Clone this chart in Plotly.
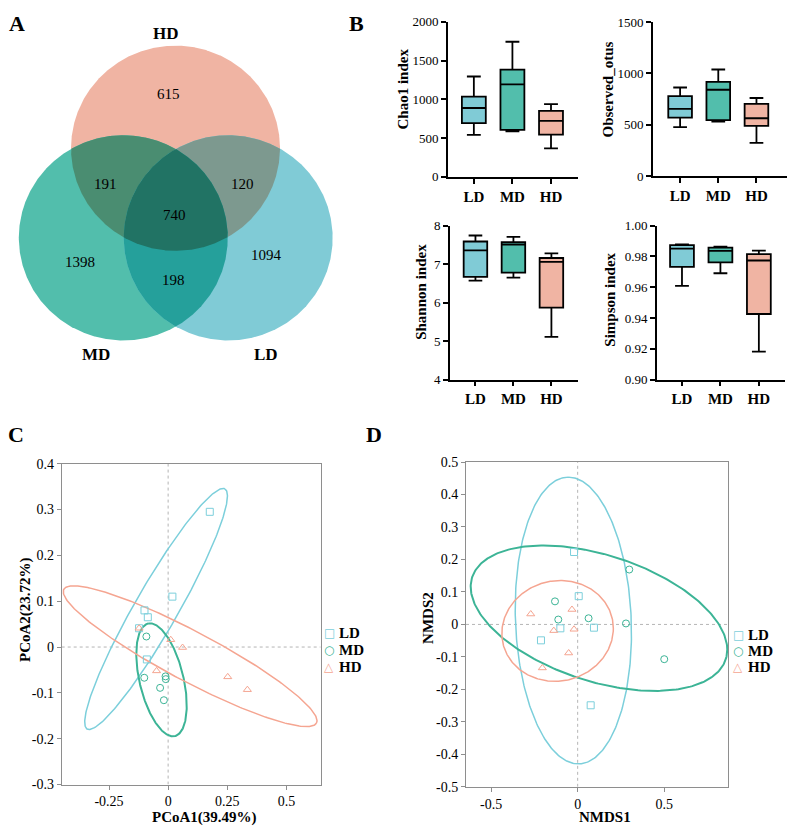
import numpy as np
import plotly.graph_objects as go

W, H = 794, 840
FONT = "Liberation Serif, Times New Roman, Times, DejaVu Serif, serif"

# ---------------- data ----------------
GROUPS = ["LD", "MD", "HD"]

# Venn (panel A)
VENN_REGIONS = ["HD", "MD", "LD", "HD&MD", "HD&LD", "MD&LD", "HD&MD&LD"]
VENN_COUNTS = [615, 1398, 1094, 191, 120, 198, 740]

# Alpha diversity box statistics (panel B), order LD, MD, HD
CHAO1_MIN = [541, 588, 368]
CHAO1_Q1 = [693, 605, 545]
CHAO1_MED = [888, 1192, 723]
CHAO1_Q3 = [1036, 1383, 850]
CHAO1_MAX = [1294, 1742, 939]

OTUS_MIN = [478, 532, 325]
OTUS_Q1 = [570, 545, 490]
OTUS_MED = [656, 841, 564]
OTUS_Q3 = [780, 917, 704]
OTUS_MAX = [863, 1038, 761]

SHANNON_MIN = [6.57, 6.65, 5.11]
SHANNON_Q1 = [6.67, 6.78, 5.87]
SHANNON_MED = [7.36, 7.51, 7.06]
SHANNON_Q3 = [7.59, 7.57, 7.16]
SHANNON_MAX = [7.745, 7.71, 7.28]

SIMPSON_MIN = [0.9609, 0.9691, 0.9181]
SIMPSON_Q1 = [0.9732, 0.9762, 0.9426]
SIMPSON_MED = [0.9851, 0.9836, 0.9774]
SIMPSON_Q3 = [0.9874, 0.9857, 0.9815]
SIMPSON_MAX = [0.9879, 0.9864, 0.9838]

# PCoA (panel C)
PCOA_LD_X = [0.176, 0.018, -0.100, -0.086, -0.123, -0.090]
PCOA_LD_Y = [0.295, 0.110, 0.080, 0.065, 0.041, -0.027]
PCOA_MD_X = [-0.092, -0.101, -0.011, -0.010, -0.034, -0.018]
PCOA_MD_Y = [0.023, -0.067, -0.064, -0.070, -0.089, -0.116]
PCOA_HD_X = [-0.123, 0.011, 0.061, -0.049, 0.252, 0.335]
PCOA_HD_Y = [0.041, 0.016, -0.001, -0.052, -0.065, -0.093]
# confidence ellipses: centre + two conjugate semi-diameters (LD, MD, HD)
PCOA_ELL_CX = [-0.051, -0.028, 0.093]
PCOA_ELL_CY = [0.083, -0.0715, -0.020]
PCOA_ELL_U = [(0.291, 0.262), (-0.0563, 0.1228), (0.534, -0.146)]
PCOA_ELL_V = [(0.0796, -0.0228), (0.0906, 0.0106), (-0.051, -0.0475)]

# NMDS (panel D)
NMDS_LD_X = [-0.021, 0.006, -0.100, 0.094, -0.212, 0.075]
NMDS_LD_Y = [0.223, 0.087, -0.012, -0.010, -0.049, -0.249]
NMDS_MD_X = [-0.131, -0.112, 0.063, 0.279, 0.298, 0.500]
NMDS_MD_Y = [0.071, 0.015, 0.019, 0.003, 0.169, -0.107]
NMDS_HD_X = [-0.271, -0.033, -0.138, -0.021, -0.052, -0.204]
NMDS_HD_Y = [0.032, 0.046, -0.019, -0.015, -0.088, -0.134]
NMDS_ELL_CX = [-0.025, 0.123, -0.116]
NMDS_ELL_CY = [0.012, 0.019, -0.020]
NMDS_ELL_U = [(-0.0288, 0.4415), (0.741, -0.0968), (0.322, 0.0079)]
NMDS_ELL_V = [(0.3346, 0.0), (0.0, -0.2018), (0.0, 0.155)]

# tick labels
PCOA_XTICKS = [-0.25, 0, 0.25, 0.5]
PCOA_XTEXT = ["-0.25", "0", "0.25", "0.5"]
PCOA_YTICKS = [-0.3, -0.2, -0.1, 0, 0.1, 0.2, 0.3, 0.4]
PCOA_YTEXT = ["-0.3", "-0.2", "-0.1", "0", "0.1", "0.2", "0.3", "0.4"]
NMDS_XTICKS = [-0.5, 0, 0.5]
NMDS_XTEXT = ["-0.5", "0", "0.5"]
NMDS_YTICKS = [-0.5, -0.4, -0.3, -0.2, -0.1, 0, 0.1, 0.2, 0.3, 0.4, 0.5]
NMDS_YTEXT = ["-0.5", "-0.4", "-0.3", "-0.2", "-0.1", "0", "0.1", "0.2", "0.3", "0.4", "0.5"]

# ---------------- styles ----------------
BOX_COL = {"LD": "#80cbd6", "MD": "#52beac", "HD": "#f0b4a3"}
PT_COL = {"LD": "#7ccfdb", "MD": "#3cb496", "HD": "#f5a591"}
PT_SYM = {"LD": "square-open", "MD": "circle-open", "HD": "triangle-up-open"}
LEG_GLYPH = {"LD": "\u25a1", "MD": "\u25cb", "HD": "\u25b3"}
ELL_W = {"LD": 1.5, "MD": 2.0, "HD": 1.5}
VENN_COL = ["#f0b4a3", "#52beac", "#80cbd6", "#4a8d71", "#7d998f", "#25a09b", "#217364"]
VENN_CX = [175.5, 123.3, 228.2]   # HD, MD, LD (pixel layout)
VENN_CY = [143.8, 235.0, 235.0]
VENN_R = 104.5
VENN_TXT_POS = [(168, 89), (80, 260), (266, 253), (106, 180), (243, 180), (173, 278), (174, 212)]


def dx(a, b):
    return [a / W, b / W]


def dy(top, bot):
    return [1 - bot / H, 1 - top / H]


def px(x):
    return x / W


def py(y):
    return 1 - y / H


def ann(text, x, y, font, angle=0, xanchor="center", color=None):
    f = dict(font)
    if color:
        f["color"] = color
    return dict(x=px(x), y=py(y), xref="paper", yref="paper", text=text, textangle=angle,
                showarrow=False, xanchor=xanchor, yanchor="middle", font=f)


def reg(s):
    return dict(family=FONT, size=s, color="black")


def bold(s):
    return dict(family=FONT, size=s, color="black", weight="bold")


fig = go.Figure()

# ---------------- panel A : Venn ----------------
def region(idx):
    t = np.linspace(0, 2 * np.pi, 1441)
    xs, ys = [], []
    for i in idx:
        x = VENN_CX[i] + VENN_R * np.cos(t)
        y = VENN_CY[i] + VENN_R * np.sin(t)
        m = np.ones_like(x, dtype=bool)
        for j in idx:
            if j != i:
                m &= (x - VENN_CX[j]) ** 2 + (y - VENN_CY[j]) ** 2 <= VENN_R ** 2 + 1e-6
        xs.append(x[m])
        ys.append(y[m])
    X = np.concatenate(xs)
    Y = np.concatenate(ys)
    o = np.argsort(np.arctan2(Y - Y.mean(), X - X.mean()))
    X, Y = X[o], Y[o]
    return np.append(X, X[0]), np.append(Y, Y[0])


region_sets = [[0], [1], [2], [0, 1], [0, 2], [1, 2], [0, 1, 2]]
for k, idx in enumerate(region_sets):
    X, Y = region(idx)
    fig.add_trace(go.Scatter(x=X, y=Y, mode="lines", fill="toself",
                             fillcolor=VENN_COL[k], line=dict(width=0, color=VENN_COL[k]),
                             hoverinfo="skip", showlegend=False, xaxis="x7", yaxis="y7"))

annotations = []
for k, n in enumerate(VENN_COUNTS):
    xx, yy = VENN_TXT_POS[k]
    annotations.append(ann(str(n), xx, yy, reg(15)))
for name, (xx, yy) in zip(["HD", "MD", "LD"], [(166, 27), (96, 354), (266, 354)]):
    annotations.append(ann(name, xx, yy, bold(17)))

# ---------------- panel B : boxes ----------------
box_sets = [
    ("x", "y", CHAO1_MIN, CHAO1_Q1, CHAO1_MED, CHAO1_Q3, CHAO1_MAX),
    ("x2", "y2", OTUS_MIN, OTUS_Q1, OTUS_MED, OTUS_Q3, OTUS_MAX),
    ("x3", "y3", SHANNON_MIN, SHANNON_Q1, SHANNON_MED, SHANNON_Q3, SHANNON_MAX),
    ("x4", "y4", SIMPSON_MIN, SIMPSON_Q1, SIMPSON_MED, SIMPSON_Q3, SIMPSON_MAX),
]
for xa, ya, mn, q1, md, q3, mx in box_sets:
    for i, g in enumerate(GROUPS):
        fig.add_trace(go.Box(x=[g], lowerfence=[mn[i]], q1=[q1[i]], median=[md[i]], q3=[q3[i]],
                             upperfence=[mx[i]], fillcolor=BOX_COL[g],
                             line=dict(color="black", width=1.8), width=0.62, whiskerwidth=0.58,
                             boxpoints=False, hoverinfo="skip", showlegend=False,
                             xaxis=xa, yaxis=ya))

# ---------------- panels C & D : ordination ----------------
def ellipse(cx, cy, u, v):
    t = np.linspace(0, 2 * np.pi, 300)
    return (cx + u[0] * np.cos(t) + v[0] * np.sin(t),
            cy + u[1] * np.cos(t) + v[1] * np.sin(t))


pc_pts = {"LD": (PCOA_LD_X, PCOA_LD_Y), "MD": (PCOA_MD_X, PCOA_MD_Y), "HD": (PCOA_HD_X, PCOA_HD_Y)}
nm_pts = {"LD": (NMDS_LD_X, NMDS_LD_Y), "MD": (NMDS_MD_X, NMDS_MD_Y), "HD": (NMDS_HD_X, NMDS_HD_Y)}

for xa, ya, pts, ecx, ecy, eu, ev in [
    ("x5", "y5", pc_pts, PCOA_ELL_CX, PCOA_ELL_CY, PCOA_ELL_U, PCOA_ELL_V),
    ("x6", "y6", nm_pts, NMDS_ELL_CX, NMDS_ELL_CY, NMDS_ELL_U, NMDS_ELL_V),
]:
    for i, g in enumerate(GROUPS):
        ex, ey = ellipse(ecx[i], ecy[i], eu[i], ev[i])
        fig.add_trace(go.Scatter(x=ex, y=ey, mode="lines", line=dict(color=PT_COL[g], width=ELL_W[g]),
                                 hoverinfo="skip", showlegend=False, xaxis=xa, yaxis=ya))
    for g in GROUPS:
        fig.add_trace(go.Scatter(x=pts[g][0], y=pts[g][1], mode="markers", name=g,
                                 marker=dict(symbol=PT_SYM[g], size=7, color=PT_COL[g],
                                             line=dict(width=1, color=PT_COL[g])),
                                 showlegend=False, xaxis=xa, yaxis=ya))

# legends (compact key drawn as text)
for (sx, tx, ys) in [(329, 337, [637.5, 655, 671.5]), (738, 746, [639.5, 655.5, 671.5])]:
    for g, yy in zip(GROUPS, ys):
        annotations.append(ann(LEG_GLYPH[g], sx, yy, dict(family="DejaVu Sans", size=12),
                               color=PT_COL[g]))
        annotations.append(ann(g, tx, yy, bold(15), xanchor="left"))

# ---------------- axes ----------------
tick_font = reg(13)
cat_font = bold(15)


def box_x(dom):
    return dict(domain=dom, type="category", categoryorder="array", categoryarray=GROUPS,
                range=[-0.67, 2.7], showline=True, linecolor="black", linewidth=1.8,
                ticks="outside", ticklen=5, tickwidth=1.8, tickcolor="black",
                tickfont=cat_font, showgrid=False, zeroline=False, fixedrange=True)


def box_y(dom, rng, dtick, anchor, fmt=None):
    d = dict(domain=dom, range=rng, dtick=dtick, tick0=rng[0], showline=True, linecolor="black",
             linewidth=1.8, ticks="outside", ticklen=5, tickwidth=1.8, tickcolor="black",
             tickfont=tick_font, showgrid=False, zeroline=False, anchor=anchor, fixedrange=True)
    if fmt:
        d["tickformat"] = fmt
    return d


def ord_ax(dom, rng, tv, tt, anchor):
    return dict(domain=dom, range=rng, tickvals=tv, ticktext=tt, showline=True, mirror=True,
                linecolor="#8e8e8e", linewidth=1, ticks="outside", ticklen=4, tickwidth=1,
                tickcolor="#8e8e8e", tickfont=reg(14),
                showgrid=False, zeroline=False, anchor=anchor)


layout = dict(
    width=W, height=H, margin=dict(l=0, r=0, t=0, b=0),
    paper_bgcolor="white", plot_bgcolor="rgba(0,0,0,0)",
    font=dict(family=FONT, color="black"), showlegend=False,
    xaxis=box_x(dx(448, 578)) | dict(anchor="y"),
    yaxis=box_y(dy(15, 173), [0, 2000], 500, "x"),
    xaxis2=box_x(dx(653, 787)) | dict(anchor="y2", range=[-0.71, 2.8]),
    yaxis2=box_y(dy(15.3, 172.3), [0, 1500], 500, "x2"),
    xaxis3=box_x(dx(450, 578)) | dict(anchor="y3"),
    yaxis3=box_y(dy(222.7, 379.3), [4, 8], 1, "x3"),
    xaxis4=box_x(dx(657, 785)) | dict(anchor="y4", range=[-0.65, 2.68]),
    yaxis4=box_y(dy(222.7, 379.3), [0.90, 1.00], 0.02, "x4", ".2f"),
    xaxis5=ord_ax(dx(61.7, 320.7), [-0.45, 0.645], PCOA_XTICKS, PCOA_XTEXT, "y5"),
    yaxis5=ord_ax(dy(465, 791.7), [-0.3, 0.4], PCOA_YTICKS, PCOA_YTEXT, "x5"),
    xaxis6=ord_ax(dx(466, 728.3), [-0.645, 0.87], NMDS_XTICKS, NMDS_XTEXT, "y6"),
    yaxis6=ord_ax(dy(463.3, 794), [-0.5, 0.5], NMDS_YTICKS, NMDS_YTEXT, "x6"),
    xaxis7=dict(domain=dx(0, 370), range=[0, 370], visible=False, fixedrange=True, anchor="y7"),
    yaxis7=dict(domain=dy(0, 370), range=[370, 0], visible=False, fixedrange=True, anchor="x7"),
)

# zero reference lines (dotted)
shapes = [
    dict(type="line", xref="x5", yref="y5", x0=0, x1=0, y0=-0.3, y1=0.4,
         line=dict(color="#b5b5b5", width=1, dash="dot"), layer="below"),
    dict(type="line", xref="x5", yref="y5", x0=-0.45, x1=0.645, y0=0, y1=0,
         line=dict(color="#b5b5b5", width=1, dash="dot"), layer="below"),
    dict(type="line", xref="x6", yref="y6", x0=0, x1=0, y0=-0.5, y1=0.5,
         line=dict(color="#b5b5b5", width=1, dash="dot"), layer="below"),
    dict(type="line", xref="x6", yref="y6", x0=-0.645, x1=0.87, y0=0, y1=0,
         line=dict(color="#b5b5b5", width=1, dash="dot"), layer="below"),
]

# panel letters
for t, (xx, yy) in zip(["A", "B", "C", "D"], [(17, 17), (356, 17), (16, 435), (374, 435)]):
    annotations.append(ann(t, xx, yy, bold(22)))
# B y titles
for t, (xx, yy) in zip(["Chao1 index", "Observed_otus", "Shannon index", "Simpson index"],
                       [(403, 84), (608, 84), (421, 290), (610, 298)]):
    annotations.append(ann(t, xx, yy, bold(15), angle=-90))
# C, D axis titles
for t, (xx, yy), a in [("PCoA1(39.49%)", (204, 825), 0), ("PCoA2(23.72%)", (25, 614), -90),
                       ("NMDS1", (605, 825), 0), ("NMDS2", (428, 622), -90)]:
    annotations.append(ann(t, xx, yy, bold(15), angle=a))

layout["annotations"] = annotations
layout["shapes"] = shapes
fig.update_layout(**layout)
fig.write_html("out.html")
